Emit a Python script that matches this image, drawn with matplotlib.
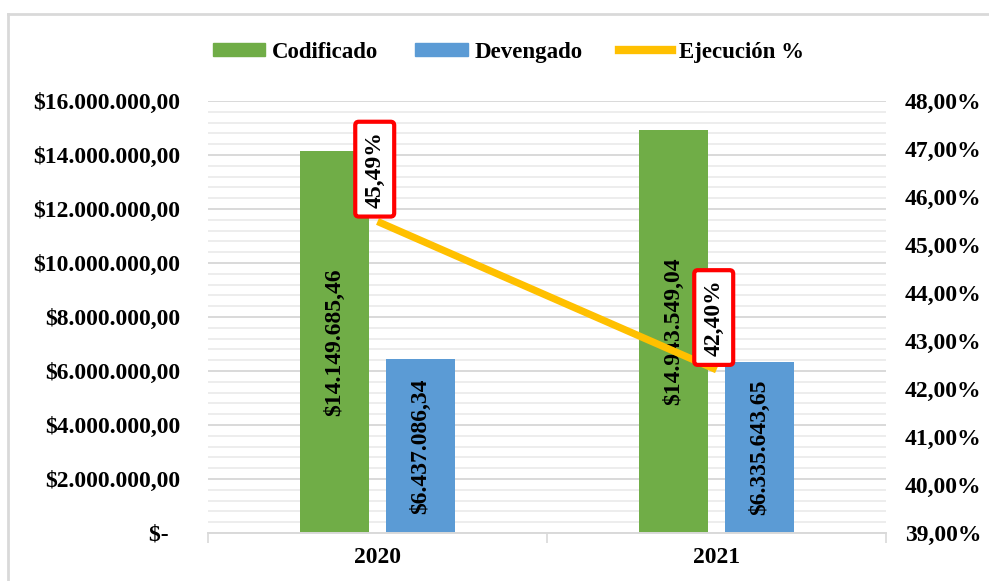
import matplotlib
matplotlib.use("Agg")
import matplotlib.pyplot as plt
from matplotlib.patches import Patch
from matplotlib.lines import Line2D
from matplotlib.ticker import FixedLocator, MultipleLocator, FuncFormatter
import numpy as np

years = ["2020", "2021"]
codificado = [14149685.46, 14943549.04]
devengado = [6437086.34, 6335643.65]
ejecucion = [45.49, 42.40]
series_names = ["Codificado", "Devengado", "Ejecución %"]

GREEN = "#70AD47"
BLUE = "#5B9BD5"
ORANGE = "#FFC000"
GRID_MAJ = "#D9D9D9"
GRID_MIN = "#EDEDED"
FS = 16.5
FS_TICK = 17
FS_LBL = 17

plt.rcParams["font.family"] = ["Liberation Serif", "DejaVu Serif"]
plt.rcParams["font.weight"] = "bold"

fig = plt.figure(figsize=(9.89, 5.81), dpi=100)
ax = fig.add_axes([208/989, 1-533/581, (886-208)/989, (533-101)/581])
ax2 = ax.twinx()

def money(v):
    s = f"{v:,.2f}"
    s = s.replace(",", "X").replace(".", ",").replace("X", ".")
    return "$" + s

def money_tick(v, pos):
    if abs(v) < 1:
        return "$-  "
    return money(v)

x = np.arange(len(years))
w = 0.204
off = 0.127
ax.bar(x - off, codificado, w, color=GREEN, zorder=2)
ax.bar(x + off, devengado, w, color=BLUE, zorder=2)

for xi, v in zip(x - off, codificado):
    ax.text(xi, v/2, money(v), rotation=90, ha="center", va="center",
            fontsize=FS_LBL, fontweight="bold", color="black", zorder=3)
for xi, v in zip(x + off, devengado):
    ax.text(xi, v/2, money(v), rotation=90, ha="center", va="center",
            fontsize=FS_LBL, fontweight="bold", color="black", zorder=3)

ax.set_xlim(-0.5, 1.5)
ax.set_ylim(0, 16000000)
ax.yaxis.set_major_locator(MultipleLocator(2000000))
ax.yaxis.set_minor_locator(MultipleLocator(400000))
ax.yaxis.set_major_formatter(FuncFormatter(money_tick))
ax.grid(axis="y", which="major", color=GRID_MAJ, lw=1.4, zorder=0)
ax.grid(axis="y", which="minor", color=GRID_MIN, lw=1.4, zorder=0)
ax.set_axisbelow(True)
ax.tick_params(axis="y", which="both", length=0, pad=20, labelsize=FS_TICK)
ax.set_xticks(x)
ax.set_xticklabels(years)
ax.xaxis.set_minor_locator(FixedLocator([-0.5, 0.5, 1.5]))
ax.tick_params(axis="x", which="major", length=0, pad=10, labelsize=FS_TICK)
ax.tick_params(axis="x", which="minor", length=7, width=1.2, color=GRID_MAJ)
for s in ["top", "left", "right"]:
    ax.spines[s].set_visible(False)
ax.spines["bottom"].set_color(GRID_MAJ)
ax.spines["bottom"].set_linewidth(1.4)
for lab in ax.get_yticklabels() + ax.get_xticklabels():
    lab.set_fontweight("bold")

ax2.plot(x, ejecucion, color=ORANGE, lw=5.2, solid_capstyle="butt", zorder=4)
ax2.set_ylim(39, 48)
ax2.yaxis.set_major_locator(MultipleLocator(1))
ax2.yaxis.set_major_formatter(FuncFormatter(lambda v, p: f"{v:.2f}".replace(".", ",") + "%"))
ax2.tick_params(axis="y", length=0, pad=13.5, labelsize=FS_TICK)
for s in ["top", "left", "right", "bottom"]:
    ax2.spines[s].set_visible(False)
for lab in ax2.get_yticklabels():
    lab.set_fontweight("bold")

for xi, v in zip(x, ejecucion):
    ax2.annotate(f"{v:.2f}".replace(".", ",") + "%", xy=(xi, v), xytext=(-2, 10),
                 textcoords="offset points", rotation=90, ha="center", va="bottom",
                 fontsize=FS_LBL, fontweight="bold", zorder=5,
                 bbox=dict(boxstyle="round,pad=0.38,rounding_size=0.15", fc="white",
                           ec="#FF0000", lw=3))

handles = [Patch(color=GREEN), Patch(color=BLUE), Line2D([], [], color=ORANGE, lw=6)]
fig.legend(handles, series_names, loc="center", bbox_to_anchor=(0.514, 0.91),
           ncol=3, frameon=False, prop={"size": FS, "weight": "bold"},
           handlelength=2.3, handleheight=0.5, handletextpad=0.3, columnspacing=1.6)

fig.add_artist(Line2D([8/989, 8/989], [0, 1-14/581], color=GRID_MAJ, lw=2, transform=fig.transFigure))
fig.add_artist(Line2D([8/989, 1], [1-14/581, 1-14/581], color=GRID_MAJ, lw=2, transform=fig.transFigure))

fig.savefig("out.png", dpi=100)
